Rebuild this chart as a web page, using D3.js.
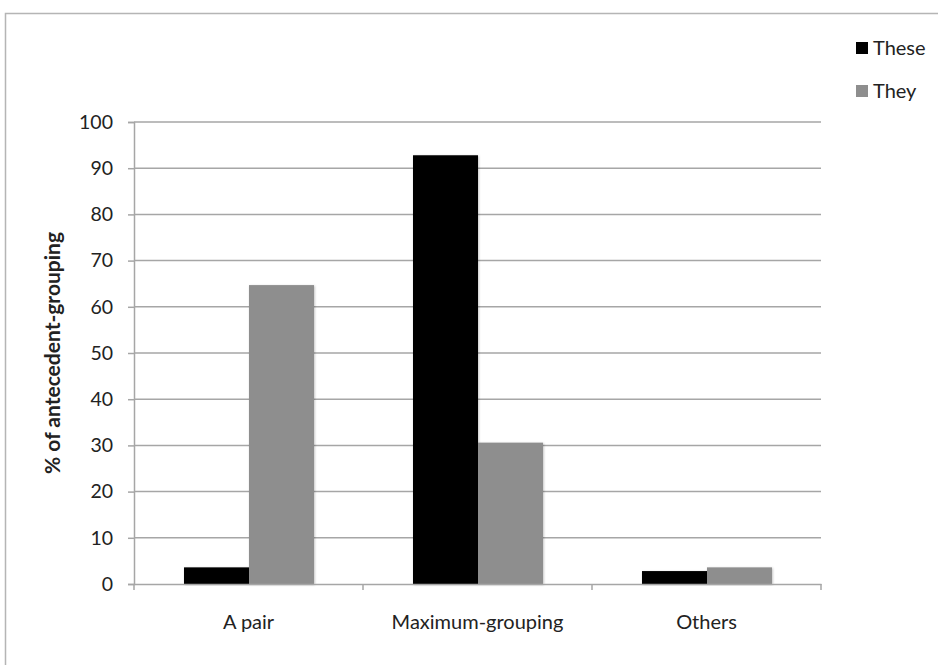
<!DOCTYPE html>
<html>
<head>
<meta charset="utf-8">
<script src="https://cdn.jsdelivr.net/npm/d3@7"></script>
<style>
  body { margin: 0; background: #fff; }
  svg { display: block; }
  text { font-family: Lato, "Open Sans", sans-serif; fill: #222; }
</style>
</head>
<body>
<svg id="chart" width="938" height="665"></svg>
<script>
var categories = ["A pair", "Maximum-grouping", "Others"];
var seriesNames = ["These", "They"];
var theseValues = [3.6, 92.8, 2.8];
var theyValues = [64.7, 30.6, 3.6];
var yTicks = [0, 10, 20, 30, 40, 50, 60, 70, 80, 90, 100];

var colors = { These: "#000000", They: "#8e8e8e" };

var svg = d3.select("#chart");

// soft bar shadow like the original
var defs = svg.append("defs");
var f = defs.append("filter").attr("id", "shadow")
  .attr("x", "-10%").attr("y", "-10%").attr("width", "120%").attr("height", "120%");
f.append("feDropShadow").attr("dx", 0.8).attr("dy", 0.8)
  .attr("stdDeviation", 1).attr("flood-color", "#000").attr("flood-opacity", 0.25);

// outer frame (runs off the right and bottom edges)
svg.append("rect")
  .attr("x", 5.5).attr("y", 13.5)
  .attr("width", 960).attr("height", 700)
  .attr("fill", "none")
  .attr("stroke", "#b5b5b5")
  .attr("stroke-width", 1.5);

var margin = { top: 122, left: 134 },
  width = 687,
  height = 462;

var g = svg.append("g")
  .attr("transform", "translate(" + margin.left + "," + margin.top + ")");

var x = d3.scaleBand().domain(categories).range([0, width]).paddingInner(0).paddingOuter(0);
var xInner = d3.scaleBand().domain(seriesNames).range([50, 180]);
var y = d3.scaleLinear().domain([0, 100]).range([height, 0]);

// gridlines + y ticks
var yAxis = g.append("g")
  .call(d3.axisLeft(y).tickValues(yTicks).tickSize(6).tickPadding(15));
yAxis.select(".domain").attr("stroke", "#a6a6a6").attr("stroke-width", 1.5);
yAxis.selectAll(".tick line").attr("stroke", "#a6a6a6").attr("stroke-width", 1.5);
yAxis.selectAll(".tick text").attr("font-size", "19.5px").attr("fill", "#222")
  .style("font-family", "Lato, sans-serif");

g.append("g").selectAll("line")
  .data(yTicks.filter(function (d) { return d > 0; }))
  .enter().append("line")
  .attr("x1", 0).attr("x2", width)
  .attr("y1", function (d) { return y(d); })
  .attr("y2", function (d) { return y(d); })
  .attr("stroke", "#a6a6a6")
  .attr("stroke-width", 1.5);

// bars
var data = categories.map(function (c, i) {
  return { cat: c, These: theseValues[i], They: theyValues[i] };
});

var groups = g.selectAll(".grp").data(data).enter().append("g")
  .attr("transform", function (d) { return "translate(" + x(d.cat) + ",0)"; });

groups.selectAll("rect")
  .data(function (d) {
    return seriesNames.map(function (s) { return { key: s, value: d[s] }; });
  })
  .enter().append("rect")
  .attr("x", function (d) { return xInner(d.key); })
  .attr("width", xInner.bandwidth())
  .attr("y", function (d) { return y(d.value); })
  .attr("height", function (d) { return height - y(d.value); })
  .attr("fill", function (d) { return colors[d.key]; })
  .attr("filter", "url(#shadow)");

// x axis
var xAxis = g.append("g")
  .attr("transform", "translate(0," + height + ")")
  .call(d3.axisBottom(x).tickSize(0).tickPadding(31));
xAxis.select(".domain").attr("stroke", "#a6a6a6").attr("stroke-width", 1.5);
xAxis.selectAll(".tick text").attr("font-size", "20px").attr("fill", "#222")
  .style("font-family", "Lato, sans-serif");

// category separator ticks
g.append("g").selectAll("line")
  .data([0, 1, 2, 3])
  .enter().append("line")
  .attr("x1", function (d) { return d * x.step(); })
  .attr("x2", function (d) { return d * x.step(); })
  .attr("y1", height).attr("y2", height + 6)
  .attr("stroke", "#a6a6a6")
  .attr("stroke-width", 1.5);

// y axis label
svg.append("text")
  .attr("transform", "translate(60," + (margin.top + height / 2) + ") rotate(-90)")
  .attr("text-anchor", "middle")
  .attr("font-size", "21px")
  .attr("font-weight", "bold")
  .text("% of antecedent-grouping");

// legend
var legend = svg.append("g").selectAll("g")
  .data(seriesNames).enter().append("g")
  .attr("transform", function (d, i) { return "translate(856," + (42 + i * 43) + ")"; });
legend.append("rect")
  .attr("width", 12).attr("height", 12)
  .attr("fill", function (d) { return colors[d]; });
legend.append("text")
  .attr("x", 17).attr("y", 13)
  .attr("font-size", "20px")
  .text(function (d) { return d; });
</script>
</body>
</html>
